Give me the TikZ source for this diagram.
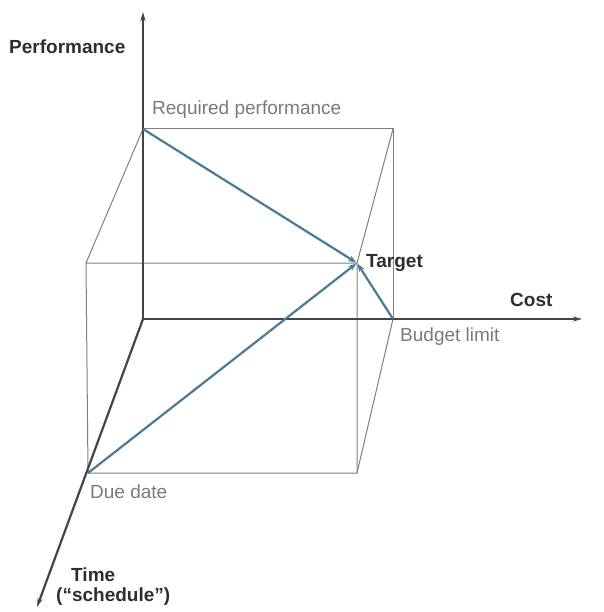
\documentclass[tikz,border=0pt]{standalone}
\usepackage{fontspec}
\setmainfont{Liberation Sans}
\usetikzlibrary{arrows.meta}
\definecolor{axisgray}{HTML}{444444}
\definecolor{edgegray}{HTML}{7F7F7F}
\definecolor{pathblue}{HTML}{4A7A94}
\definecolor{labelgray}{HTML}{7A7A7A}
\definecolor{labeldark}{HTML}{2E2E2E}
\tikzset{
  axisline/.style={draw=axisgray, line width=2.2pt, -{Stealth[length=9pt,width=5pt]}},
  edge/.style={draw=edgegray, line width=1pt},
  bluepath/.style={draw=pathblue, line width=2.2pt, -{Stealth[length=8pt,width=6pt]}, shorten >=1pt},
  lbl/.style={text=labelgray, font=\fontsize{19}{22}\selectfont, inner sep=0pt},
  blbl/.style={text=labeldark, font=\fontsize{19}{22}\selectfont\bfseries, inner sep=0pt},
}
\begin{document}
\begin{tikzpicture}[x=1pt,y=-1pt]
\useasboundingbox (0,0) rectangle (603,612);
% points
\coordinate (O) at (143,319);
\coordinate (P) at (143,129);
\coordinate (PR) at (393,129);
\coordinate (B) at (393,319);
\coordinate (F1) at (86,263);
\coordinate (T) at (357,263);
\coordinate (F3) at (357,473);
\coordinate (D) at (88,473);
\coordinate (PerfEnd) at (143,12);
\coordinate (CostEnd) at (582,319);
\coordinate (TimeEnd) at (37,607);
% cube edges
\draw[edge] (P) -- (PR) -- (B);
\draw[edge] (F1) -- (T) -- (F3) -- (D) -- cycle;
\draw[edge] (P) -- (F1);
\draw[edge] (PR) -- (T);
\draw[edge] (B) -- (F3);
% axes
\draw[axisline] (O) -- (PerfEnd);
\draw[axisline] (O) -- (CostEnd);
\draw[axisline] (O) -- (TimeEnd);
% blue paths
\draw[bluepath] (P) -- (T);
\draw[bluepath] (D) -- (T);
\draw[bluepath] (B) -- (T);
% labels
\node[blbl, anchor=west] (perf) at (9,47) {Performance};
\node[lbl, anchor=west] (req) at (152,110) {Required performance};
\node[blbl, anchor=west] (target) at (366,263) {Target};
\node[blbl, anchor=west] (cost) at (510,300) {Cost};
\node[lbl, anchor=west] (budget) at (400,337) {Budget limit};
\node[lbl, anchor=west] (due) at (90,492) {Due date};
\node[blbl, anchor=west] (time) at (71,575) {Time};
\node[blbl, anchor=west] (sched) at (56,597) {(“schedule”)};
\end{tikzpicture}
\end{document}
